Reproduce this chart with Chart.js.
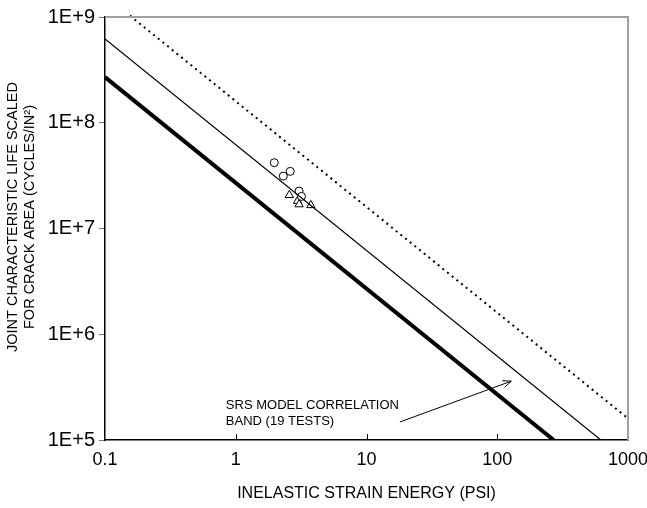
<!DOCTYPE html>
<html>
<head>
<meta charset="utf-8">
<script src="https://cdn.jsdelivr.net/npm/chart.js@4"></script>
<style>
  html, body { margin: 0; padding: 0; background: #fff; }
  #wrap { width: 647px; height: 508px; }
</style>
</head>
<body>
<div id="wrap"><canvas id="chart" width="647" height="508"></canvas></div>
<script>
/* ========== Data ========== */
const X_TICKS = [0.1, 1, 10, 100, 1000];
const Y_TICKS = [1e5, 1e6, 1e7, 1e8, 1e9];

// correlation lines (two end points each)
const thickX = [0.1, 270];
const thickY = [2.7e8, 1e5];
const thinX = [0.1, 620];
const thinY = [6.2e8, 1e5];
const dotX = [0.155, 1000];
const dotY = [1.03e9, 1.6e5];

// test points
const circleX = [1.97, 2.31, 2.61, 3.05, 3.18];
const circleY = [4.19e7, 3.13e7, 3.47e7, 2.26e7, 2.01e7];
const triX = [2.57, 2.97, 3.05, 3.75];
const triY = [2.07e7, 1.82e7, 1.69e7, 1.66e7];

// annotation
const noteText = ['SRS MODEL CORRELATION', 'BAND (19 TESTS)'];
const notePos = [0.84, 2.14e5];
const arrowFrom = [18, 1.48e5];
const arrowTo = [128, 3.6e5];

const Y_TITLE = ['JOINT CHARACTERISTIC LIFE SCALED', 'FOR CRACK AREA (CYCLES/IN\u00B2)'];

const FONT = "'Liberation Sans', Arial, sans-serif";
const pts = (xs, ys) => xs.map((x, i) => ({ x: x, y: ys[i] }));

/* ========== Plugins ========== */
const frameRest = {
  id: 'frameRest',
  afterDatasetsDraw(chart) {
    const { ctx, chartArea: a, scales } = chart;
    ctx.save();
    // gray top / right frame
    ctx.strokeStyle = '#a0a0a0';
    ctx.lineWidth = 2;
    ctx.beginPath();
    ctx.moveTo(a.left, a.top);
    ctx.lineTo(a.right, a.top);
    ctx.lineTo(a.right, a.bottom);
    ctx.stroke();
    // x ticks pointing inside
    ctx.strokeStyle = '#000';
    ctx.lineWidth = 1;
    X_TICKS.slice(1, -1).forEach(v => {
      const x = Math.round(scales.x.getPixelForValue(v)) + 0.5;
      ctx.beginPath();
      ctx.moveTo(x, a.bottom);
      ctx.lineTo(x, a.bottom - 6);
      ctx.stroke();
    });
    // y axis title (two rotated lines)
    ctx.font = '14.5px ' + FONT;
    ctx.fillStyle = '#000';
    ctx.textAlign = 'center';
    ctx.textBaseline = 'middle';
    ctx.translate(13, 217);
    ctx.rotate(-Math.PI / 2);
    Y_TITLE.forEach((t, i) => ctx.fillText(t, 0, i * 17));
    ctx.restore();
  }
};

const notePlugin = {
  id: 'note',
  afterDatasetsDraw(chart) {
    const { ctx, scales } = chart;
    const tx = scales.x.getPixelForValue(notePos[0]);
    const ty = scales.y.getPixelForValue(notePos[1]);
    ctx.save();
    ctx.font = '13px ' + FONT;
    ctx.fillStyle = '#000';
    ctx.textAlign = 'left';
    ctx.textBaseline = 'middle';
    noteText.forEach((t, i) => ctx.fillText(t, tx, ty + i * 16));
    const x1 = scales.x.getPixelForValue(arrowFrom[0]);
    const y1 = scales.y.getPixelForValue(arrowFrom[1]);
    const x2 = scales.x.getPixelForValue(arrowTo[0]);
    const y2 = scales.y.getPixelForValue(arrowTo[1]);
    const ang = Math.atan2(y2 - y1, x2 - x1);
    ctx.strokeStyle = '#000';
    ctx.lineWidth = 1;
    ctx.beginPath();
    ctx.moveTo(x1, y1);
    ctx.lineTo(x2, y2);
    ctx.moveTo(x2 - 9 * Math.cos(ang - 0.4), y2 - 9 * Math.sin(ang - 0.4));
    ctx.lineTo(x2, y2);
    ctx.lineTo(x2 - 9 * Math.cos(ang + 0.4), y2 - 9 * Math.sin(ang + 0.4));
    ctx.stroke();
    ctx.restore();
  }
};

/* ========== Chart ========== */
Chart.defaults.font.family = FONT;
Chart.defaults.color = '#000';

new Chart(document.getElementById('chart'), {
  type: 'scatter',
  data: {
    datasets: [
      {
        data: pts(thickX, thickY), showLine: true, borderColor: '#000',
        borderWidth: 4, pointRadius: 0
      },
      {
        data: pts(thinX, thinY), showLine: true, borderColor: '#000',
        borderWidth: 1.2, pointRadius: 0
      },
      {
        data: pts(dotX, dotY), showLine: true, borderColor: '#000',
        borderWidth: 2, borderDash: [2, 4], pointRadius: 0, clip: false
      },
      {
        data: pts(circleX, circleY), pointStyle: 'circle', pointRadius: 4,
        backgroundColor: '#fff', borderColor: '#000', borderWidth: 1
      },
      {
        data: pts(triX, triY), pointStyle: 'triangle', pointRadius: 4.8,
        backgroundColor: '#fff', borderColor: '#000', borderWidth: 1
      }
    ]
  },
  options: {
    responsive: false,
    animation: false,
    layout: { padding: { top: 17, right: 19, left: 0, bottom: 0 } },
    plugins: { legend: { display: false }, tooltip: { enabled: false } },
    scales: {
      x: {
        type: 'logarithmic',
        min: 0.1, max: 1000,
        afterBuildTicks: s => { s.ticks = X_TICKS.map(v => ({ value: v })); },
        afterFit: s => { s.height = 68; s.paddingRight = 0; s.paddingLeft = 0; },
        grid: { display: false, drawTicks: false },
        border: { display: true, color: '#000', width: 1.5 },
        ticks: {
          padding: 9, maxRotation: 0, autoSkip: false,
          font: { size: 18 }, color: '#000',
          callback: v => String(v)
        },
        title: {
          display: true, text: 'INELASTIC STRAIN ENERGY (PSI)',
          font: { size: 16 }, color: '#000', padding: { top: 0, bottom: 5 }
        }
      },
      y: {
        type: 'logarithmic',
        min: 1e5, max: 1e9,
        afterBuildTicks: s => { s.ticks = Y_TICKS.map(v => ({ value: v })); },
        afterFit: s => { s.width = 105; },
        grid: { drawOnChartArea: false, drawTicks: true, tickLength: 6, tickColor: '#777' },
        border: { display: true, color: '#000', width: 1.5 },
        ticks: {
          padding: 4, autoSkip: false, font: { size: 20 }, color: '#000',
          callback: v => '1E+' + Math.round(Math.log10(v))
        },
        title: { display: false }
      }
    }
  },
  plugins: [frameRest, notePlugin]
});
</script>
</body>
</html>
